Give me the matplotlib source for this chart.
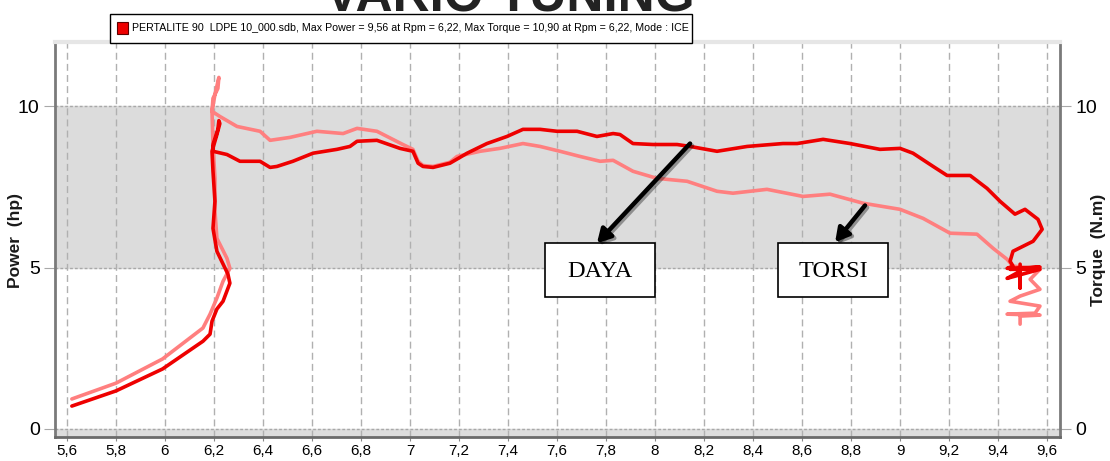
import matplotlib.pyplot as plt
import matplotlib.patheffects as pe
from matplotlib.patches import Rectangle

# Dyno run: engine speed (x1000 rpm) against power (hp) and torque (N.m)
power_rpm = [5.62, 5.80, 5.99, 6.155, 6.184, 6.192, 6.212, 6.237, 6.265, 6.257,
             6.212, 6.196, 6.204, 6.196, 6.192, 6.212, 6.224, 6.22, 6.216, 6.196,
             6.196, 6.253, 6.306, 6.388, 6.429, 6.457, 6.522, 6.604, 6.702, 6.755,
             6.784, 6.865, 6.959, 7.012, 7.033, 7.053, 7.094, 7.163, 7.233, 7.314,
             7.396, 7.461, 7.531, 7.600, 7.682, 7.763, 7.829, 7.857, 7.910, 7.992,
             8.090, 8.143, 8.253, 8.376, 8.522, 8.580, 8.686, 8.796, 8.918, 9.000,
             9.053, 9.135, 9.192, 9.286, 9.355, 9.408, 9.469, 9.510, 9.563, 9.580,
             9.543, 9.461, 9.449, 9.461, 9.437, 9.571, 9.449, 9.571, 9.437, 9.490,
             9.490, 9.490]
power_hp = [0.71, 1.18, 1.86, 2.72, 2.94, 3.34, 3.72, 3.96, 4.52, 4.80,
            5.51, 6.22, 7.06, 7.99, 8.61, 9.13, 9.47, 9.56, 9.29, 8.82,
            8.61, 8.51, 8.30, 8.30, 8.11, 8.14, 8.30, 8.55, 8.67, 8.76,
            8.92, 8.95, 8.70, 8.61, 8.24, 8.14, 8.11, 8.24, 8.55, 8.85,
            9.07, 9.29, 9.29, 9.23, 9.23, 9.07, 9.16, 9.13, 8.85, 8.82,
            8.82, 8.76, 8.61, 8.76, 8.85, 8.85, 8.98, 8.85, 8.67, 8.70,
            8.55, 8.14, 7.86, 7.86, 7.46, 7.06, 6.66, 6.81, 6.50, 6.19,
            5.82, 5.51, 5.20, 5.05, 4.98, 5.02, 4.95, 4.95, 4.67, 4.89,
            4.37, 5.11]

torque_rpm = [5.62, 5.80, 5.99, 6.155, 6.184, 6.212, 6.237, 6.265, 6.253, 6.212,
              6.204, 6.204, 6.196, 6.192, 6.204, 6.22, 6.216, 6.196, 6.192, 6.224,
              6.294, 6.388, 6.429, 6.510, 6.620, 6.727, 6.784, 6.865, 6.971, 7.012,
              7.033, 7.053, 7.094, 7.163, 7.192, 7.286, 7.367, 7.461, 7.531, 7.612,
              7.694, 7.776, 7.829, 7.910, 8.008, 8.131, 8.253, 8.318, 8.457, 8.604,
              8.714, 8.849, 9.000, 9.094, 9.204, 9.314, 9.380, 9.437, 9.461, 9.571,
              9.531, 9.571, 9.490, 9.449, 9.571, 9.551, 9.437, 9.571, 9.490, 9.490]
torque_nm = [0.93, 1.42, 2.17, 3.13, 3.56, 4.06, 4.58, 4.98, 5.29, 5.91,
             6.75, 7.77, 8.82, 9.85, 10.37, 10.90, 10.56, 10.25, 9.85, 9.69,
             9.38, 9.23, 8.95, 9.04, 9.23, 9.16, 9.32, 9.23, 8.82, 8.67,
             8.30, 8.17, 8.14, 8.27, 8.45, 8.61, 8.70, 8.85, 8.76, 8.61,
             8.45, 8.30, 8.33, 7.99, 7.77, 7.68, 7.37, 7.31, 7.43, 7.21,
             7.28, 7.00, 6.81, 6.53, 6.07, 6.04, 5.60, 5.26, 5.05, 4.95,
             4.64, 4.33, 4.12, 3.96, 3.81, 3.59, 3.56, 3.53, 3.50, 3.25]

x_ticks = [5.6, 5.8, 6.0, 6.2, 6.4, 6.6, 6.8, 7.0, 7.2, 7.4, 7.6, 7.8,
           8.0, 8.2, 8.4, 8.6, 8.8, 9.0, 9.2, 9.4, 9.6]
y_ticks = [0, 5, 10]

legend_text = ("PERTALITE 90  LDPE 10_000.sdb, Max Power = 9,56 at Rpm = 6,22, "
               "Max Torque = 10,90 at Rpm = 6,22, Mode : ICE")

narrow = ["Liberation Sans Narrow", "Liberation Sans", "DejaVu Sans"]
plt.rcParams["font.family"] = narrow

fig = plt.figure(figsize=(11.1, 4.61), dpi=100)
ax = fig.add_axes([0.0495, 0.052, 0.9055, 0.857])
ax.set_xlim(5.551, 9.653)
ax.set_ylim(-0.25, 12)

# alternating bands behind the curves
ax.axhspan(5, 10, color="#dcdcdc", zorder=0)
ax.axhspan(-5, 0, color="#dcdcdc", zorder=0)
for v in y_ticks:
    ax.axhline(v, color="#a8a8a8", linestyle=(0, (2, 1.5)), linewidth=1, zorder=1)
for t in x_ticks:
    ax.axvline(t, color="#b0b0b0", linestyle=(0, (5, 3)), linewidth=1, zorder=1)

ax.plot(torque_rpm, torque_nm, color="#ff7f7f", linewidth=2.6, zorder=3,
        solid_capstyle="round", solid_joinstyle="round")
ax.plot(power_rpm, power_hp, color="#ee0000", linewidth=2.6, zorder=4,
        solid_capstyle="round", solid_joinstyle="round")

ax.set_xticks(x_ticks)
ax.set_xticklabels([f"{t:g}".replace(".", ",") for t in x_ticks], fontsize=11)
ax.set_yticks(y_ticks)
ax.set_yticklabels([str(v) for v in y_ticks], fontsize=14)
ax.tick_params(axis="x", length=3, color="#888888", pad=2)
ax.tick_params(axis="y", length=8, color="#a8a8a8", pad=3,
               right=True, labelright=True)

for side in ("left", "right"):
    ax.spines[side].set_color("#7a7a7a")
    ax.spines[side].set_linewidth(2)
ax.spines["bottom"].set_color("#6a6a6a")
ax.spines["bottom"].set_linewidth(2)
ax.spines["top"].set_color("#e6e6e6")
ax.spines["top"].set_linewidth(3)

fig.text(0.014, 0.479, "Power  (hp)", rotation=90, ha="center", va="center",
         fontsize=12.5, fontweight="bold", family=["Liberation Sans", "DejaVu Sans"],
         color="#1a1a1a")
fig.text(0.99, 0.458, "Torque  (N.m)", rotation=90, ha="center", va="center",
         fontsize=12.5, fontweight="bold", family=["Liberation Sans", "DejaVu Sans"],
         color="#1a1a1a")

# legend strip above the plot
fig.patches.append(Rectangle((110 / 1110, 1 - 43 / 461), 582 / 1110, 29 / 461,
                             transform=fig.transFigure, facecolor="white",
                             edgecolor="black", linewidth=1, zorder=5))
fig.patches.append(Rectangle((117 / 1110, 1 - 34 / 461), 11 / 1110, 12 / 461,
                             transform=fig.transFigure, facecolor="#ee0000",
                             edgecolor="#600000", linewidth=0.8, zorder=6))
legend_label = fig.text(132 / 1110, 1 - 28 / 461, legend_text, ha="left",
                        va="center", fontsize=11.5, zorder=7)

# heading, cut off by the top edge
heading = fig.text(0.459, 1 - 12 / 461, "VARIO TUNING", ha="center",
                   va="baseline", fontsize=37, fontweight="heavy",
                   family=["Liberation Sans", "DejaVu Sans"], color="#222222")

# squeeze the legend label into its box if no narrow face is installed
fig.canvas.draw()
width = legend_label.get_window_extent().width
if width > 556:
    legend_label.set_fontsize(11.5 * 556 / width)

# callouts
shadow = [pe.SimpleLineShadow(offset=(1.5, -1.5), alpha=0.35), pe.Normal()]
for (x0, x1), label, tail, head in [
    ((0.4876, 0.597), "DAYA", (8.143, 8.85), (7.763, 5.76)),
    ((0.7194, 0.8289), "TORSI", (8.857, 6.93), (8.735, 5.79)),
]:
    ax.add_patch(Rectangle((x0, 0.354), x1 - x0, 0.137, transform=ax.transAxes,
                           facecolor="white", edgecolor="black", linewidth=1.2,
                           zorder=6))
    ax.text((x0 + x1) / 2, 0.418, label, transform=ax.transAxes, ha="center",
            va="center", fontsize=17.5, family=["Liberation Serif", "DejaVu Serif"],
            zorder=7)
    ax.annotate("", xy=head, xytext=tail, zorder=8,
                arrowprops=dict(arrowstyle="-|>,head_length=0.8,head_width=0.45",
                                color="black", linewidth=3.2,
                                shrinkA=0, shrinkB=0, path_effects=shadow))

fig.savefig("out.png", dpi=100)
